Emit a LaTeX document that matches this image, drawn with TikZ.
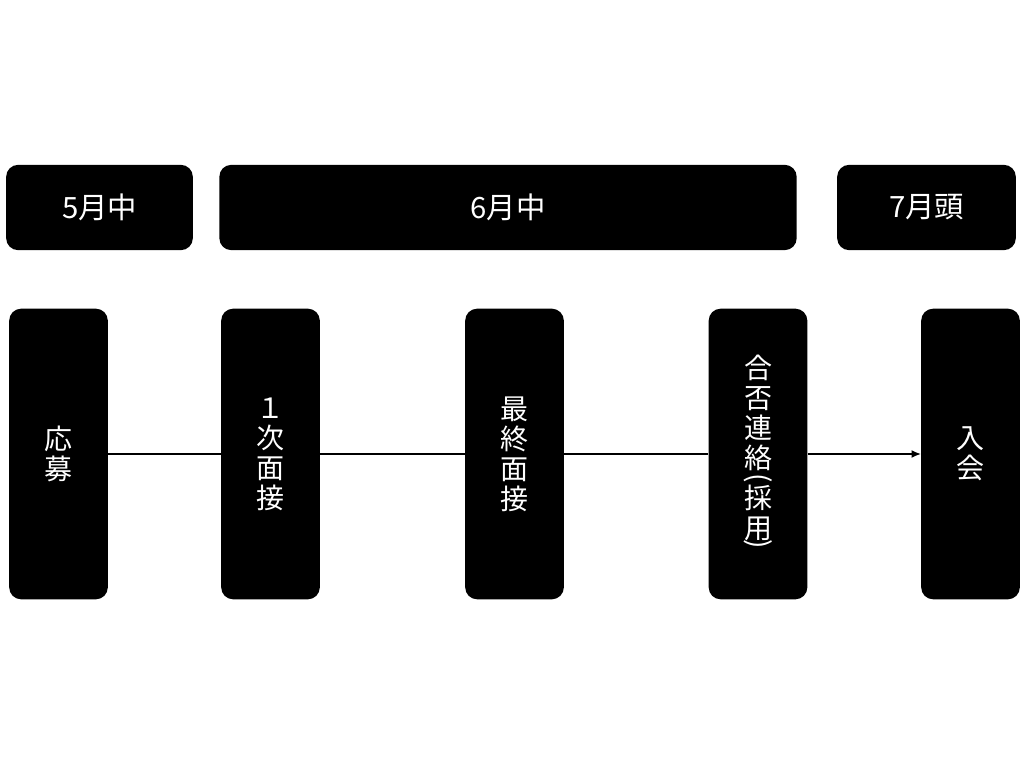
\documentclass[tikz,border=0pt]{standalone}
\usepackage{fontspec}
\setmainfont{Noto Sans CJK JP}
\usetikzlibrary{positioning,arrows.meta}
\newcommand{\vparen}[1]{\rotatebox[origin=c]{-90}{#1}}

\begin{document}
\begin{tikzpicture}[x=0.75pt, y=-0.75pt, auto,
    period/.style = {fill=black, rounded corners=9pt, text=white, minimum height=64pt,
        font=\fontsize{22}{26}\selectfont},
    stepbox/.style = {fill=black, rounded corners=9pt, text=white, minimum width=74pt,
        minimum height=218pt, align=center, font=\fontsize{21}{22.5}\selectfont},
    flow/.style = {-, line width=1.1pt}]
        \useasboundingbox (0,0) rectangle (1024,762);

        \node[period, minimum width=140pt] (may) at (99.5,207.5) {5月中};
        \node[period, minimum width=433pt] (june) at (508,207.5) {6月中};
        \node[period, minimum width=134pt] (july) at (926.5,207.5) {7月頭};

        \node[stepbox] (1) at (58.5,454) {応\\募};
        \node[stepbox] (2) at (270.5,454) {１\\次\\面\\接};
        \node[stepbox] (3) at (514.5,454) {最\\終\\面\\接};
        \node[stepbox] (4) at (758,454) {合\\否\\連\\絡\\[-9pt]\vparen{(}\\[-6pt]採\\用\\[-12pt]\vparen{)}};
        \node[stepbox] (5) at (970.5,454) {入\\会};

        \draw [flow] (1) -- (2);
        \draw [flow] (2) -- (3);
        \draw [flow] (3) -- (4);
        \draw [flow, -{Latex[length=7pt,width=6pt]}] (4) -- (5);
    \end{tikzpicture}
\end{document}
